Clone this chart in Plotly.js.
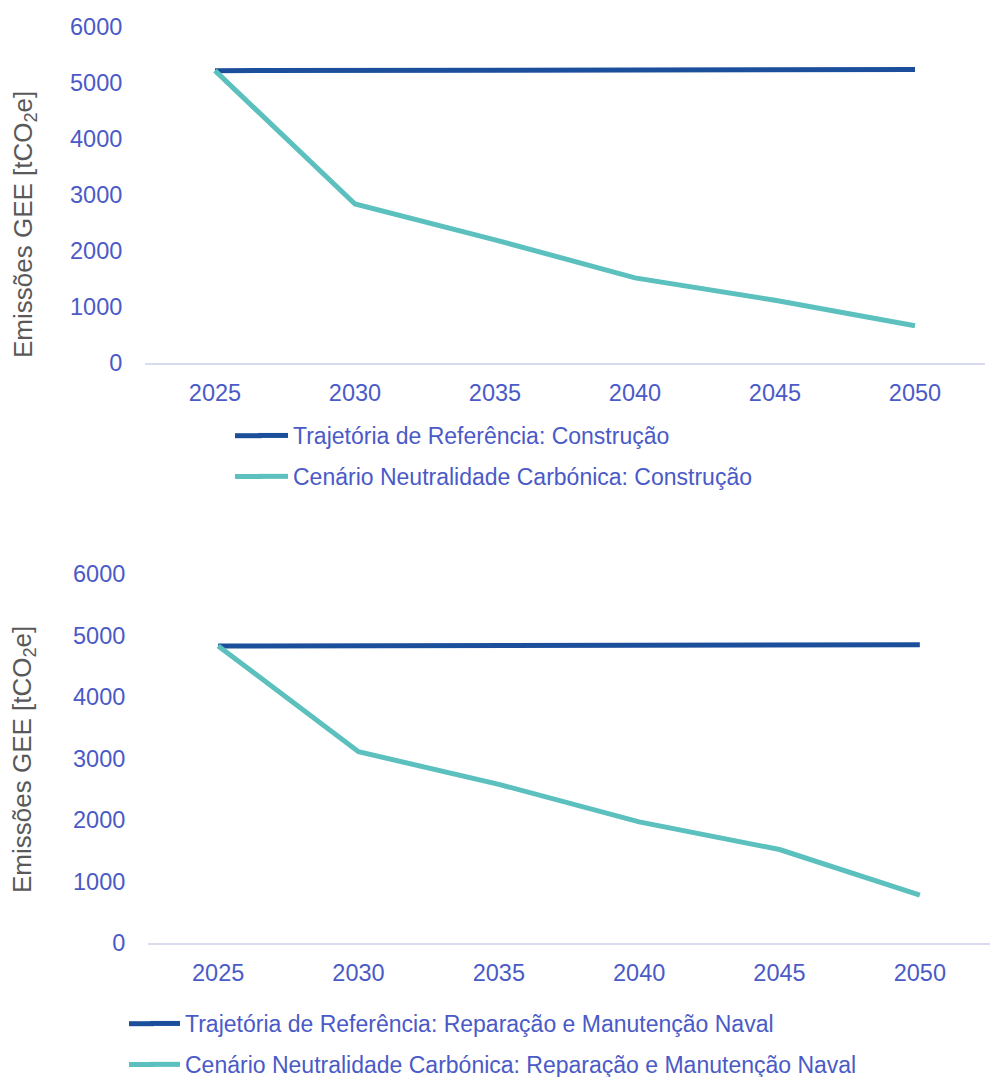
<!DOCTYPE html>
<html>
<head>
<meta charset="utf-8">
<script src="https://cdn.plot.ly/plotly-3.0.1.min.js"></script>
<style>html,body{margin:0;padding:0;background:#fff;}#chart{width:993px;height:1077px;}</style>
</head>
<body>
<div id="chart"></div>
<script>
const years = ["2025", "2030", "2035", "2040", "2045", "2050"];
const refConstrucao = [5220, 5225, 5230, 5235, 5240, 5240];
const cncConstrucao = [5220, 2840, 2200, 1520, 1120, 665];
const refNaval = [4830, 4835, 4840, 4845, 4850, 4850];
const cncNaval = [4830, 3110, 2580, 1970, 1520, 780];
const nameRefConstrucao = "Trajetória de Referência: Construção";
const nameCncConstrucao = "Cenário Neutralidade Carbónica: Construção";
const nameRefNaval = "Trajetória de Referência: Reparação e Manutenção Naval";
const nameCncNaval = "Cenário Neutralidade Carbónica: Reparação e Manutenção Naval";
const yTitle = "Emissões GEE [tCO<sub>2</sub>e]";

const cDark = "#1B4F9C", cTeal = "#5BC0BE";
const tickCol = "#4A5AC7", titleCol = "#595959", axisLine = "#D9DCF0";
const FONT = "Liberation Sans, Arial, sans-serif";
const W = 993, H = 1077;

const traces = [
  {x: years, y: refConstrucao, name: nameRefConstrucao, type: "scatter", mode: "lines",
   line: {color: cDark, width: 5}, xaxis: "x", yaxis: "y", legend: "legend", legendgroup: "a"},
  {x: years, y: cncConstrucao, name: nameCncConstrucao, type: "scatter", mode: "lines",
   line: {color: cTeal, width: 5}, xaxis: "x", yaxis: "y", legend: "legend", legendgroup: "b"},
  {x: years, y: refNaval, name: nameRefNaval, type: "scatter", mode: "lines",
   line: {color: cDark, width: 5}, xaxis: "x2", yaxis: "y2", legend: "legend2", legendgroup: "c"},
  {x: years, y: cncNaval, name: nameCncNaval, type: "scatter", mode: "lines",
   line: {color: cTeal, width: 5}, xaxis: "x2", yaxis: "y2", legend: "legend2", legendgroup: "d"}
];

const xCommon = {type: "category", range: [-0.5, 5.5], showgrid: false, zeroline: false,
  showline: true, linecolor: axisLine, linewidth: 2, ticks: "outside", ticklen: 8,
  tickcolor: "rgba(0,0,0,0)", tickfont: {family: FONT, size: 23.5, color: tickCol}, fixedrange: true};
const yCommon = {range: [0, 6000], dtick: 1000, showgrid: false, zeroline: false, showline: false,
  ticks: "outside", ticklen: 17, tickcolor: "rgba(0,0,0,0)",
  tickfont: {family: FONT, size: 23.5, color: tickCol}, fixedrange: true};

const legCommon = {orientation: "v", xanchor: "left", yanchor: "top", bgcolor: "rgba(0,0,0,0)",
  font: {family: FONT, size: 23, color: tickCol}, traceorder: "grouped", tracegroupgap: 8,
  itemwidth: 30};

// legend line extensions (styling only, to mimic the longer legend keys)
function legExt(x0, x1, yPx, color) {
  return {type: "line", xref: "paper", yref: "paper", x0: x0 / W, x1: x1 / W,
    y0: 1 - yPx / H, y1: 1 - yPx / H, line: {color: color, width: 5}};
}

const layout = {
  width: W, height: H,
  margin: {l: 0, r: 0, t: 0, b: 0, autoexpand: false},
  paper_bgcolor: "#fff", plot_bgcolor: "#fff",
  showlegend: true,
  xaxis: Object.assign({}, xCommon, {domain: [145/W, 985/W], anchor: "y"}),
  yaxis: Object.assign({}, yCommon, {domain: [1 - 363/H, 1 - 27/H], anchor: "x"}),
  xaxis2: Object.assign({}, xCommon, {domain: [148/W, 990/W], anchor: "y2"}),
  yaxis2: Object.assign({}, yCommon, {domain: [1 - 943/H, 1 - 574/H], anchor: "x2"}),
  legend: Object.assign({}, legCommon, {x: 253/W, y: 1 - 414/H}),
  legend2: Object.assign({}, legCommon, {x: 145/W, y: 1 - 1002/H}),
  shapes: [
    legExt(235, 262, 435.7, cDark), legExt(235, 262, 476.5, cTeal),
    legExt(129, 154, 1023.7, cDark), legExt(129, 154, 1064.5, cTeal)
  ],
  annotations: [
    {text: yTitle, xref: "paper", yref: "paper", x: 25/W, y: 1 - 225/H, textangle: -90,
     showarrow: false, xanchor: "center", yanchor: "middle", font: {family: FONT, size: 26, color: titleCol}},
    {text: yTitle, xref: "paper", yref: "paper", x: 23/W, y: 1 - 760/H, textangle: -90,
     showarrow: false, xanchor: "center", yanchor: "middle", font: {family: FONT, size: 26, color: titleCol}}
  ]
};

Plotly.newPlot("chart", traces, layout, {displayModeBar: false, staticPlot: true});
</script>
</body>
</html>
